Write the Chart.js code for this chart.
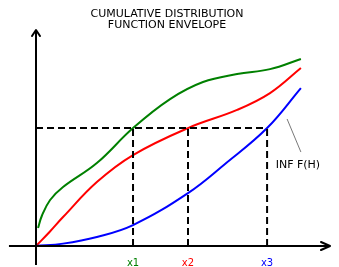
<!DOCTYPE html>
<html lang="en">
<head>
    <meta charset="UTF-8">
    <title>CDF envelope</title>
    <script src="https://cdn.jsdelivr.net/npm/chart.js@4.4.0/dist/chart.umd.min.js"></script>
    <style>
        * { margin: 0; padding: 0; box-sizing: border-box; }
        body { width: 339px; height: 267px; background: #fff; overflow: hidden; }
    </style>
</head>
<body>
    <canvas id="chart" width="339" height="267"></canvas>
    <script>
        // x in arbitrary units (0..10), y is the cumulative probability (0..1)
        const titleLines = ['CUMULATIVE DISTRIBUTION', 'FUNCTION ENVELOPE']

        const greenX = [0.07, 0.20, 0.48, 0.92, 2.07, 3.30, 4.56, 5.68, 6.84, 7.96, 9.01]
        const greenY = [0.083, 0.140, 0.213, 0.273, 0.384, 0.546, 0.680, 0.759, 0.796, 0.819, 0.866]

        const redX = [0, 0.46, 0.92, 2.07, 3.30, 5.17, 6.84, 7.96, 9.01]
        const redY = [0, 0.065, 0.134, 0.296, 0.421, 0.546, 0.630, 0.708, 0.824]

        const blueX = [0, 0.92, 2.07, 3.30, 5.17, 6.43, 7.86, 9.01]
        const blueY = [0, 0.011, 0.042, 0.097, 0.245, 0.380, 0.546, 0.731]

        // level of the horizontal cut and where each curve meets it
        const level = 0.546
        const cutX = [3.30, 5.17, 7.86]
        const cutLabels = ['x1', 'x2', 'x3']
        const cutColors = ['green', 'red', 'blue']

        // annotation pointer
        const noteX = [8.54, 9.01]
        const noteY = [0.588, 0.435]
        const noteText = 'INF F(H)'

        // axes extents
        const xAxisX = [-0.92, 10]
        const yAxisY = [-0.088, 1.0]

        const pts = (xs, ys) => xs.map((x, i) => ({ x: x, y: ys[i] }))

        const datasets = [
            { data: pts(xAxisX, [0, 0]), borderColor: '#000', borderWidth: 2 },
            { data: pts([0, 0], yAxisY), borderColor: '#000', borderWidth: 2 },
            { data: [{ x: 0, y: level }, { x: cutX[2], y: level }], borderColor: '#000', borderWidth: 2, borderDash: [7, 4] }
        ]
        cutX.forEach(x => {
            datasets.push({ data: [{ x: x, y: 0 }, { x: x, y: level }], borderColor: '#000', borderWidth: 2, borderDash: [7, 4] })
        })
        datasets.push(
            { data: pts(noteX, noteY), borderColor: '#555', borderWidth: 0.8 },
            { data: pts(blueX, blueY), borderColor: 'blue', borderWidth: 2, tension: 0.4 },
            { data: pts(redX, redY), borderColor: 'red', borderWidth: 2, tension: 0.4 },
            { data: pts(greenX, greenY), borderColor: 'green', borderWidth: 2, tension: 0.4 }
        )

        const textFont = '"DejaVu Sans", sans-serif'

        const decorations = {
            id: 'decorations',
            afterDatasetsDraw(chart) {
                const ctx = chart.ctx
                const xs = chart.scales.x
                const ys = chart.scales.y
                ctx.save()
                ctx.strokeStyle = '#000'
                ctx.lineWidth = 2
                ctx.lineJoin = 'round'
                ctx.lineCap = 'round'

                // arrow heads
                const ax = xs.getPixelForValue(xAxisX[1])
                const ay = ys.getPixelForValue(0)
                ctx.beginPath()
                ctx.moveTo(ax - 9, ay - 4)
                ctx.lineTo(ax, ay)
                ctx.lineTo(ax - 9, ay + 4)
                ctx.stroke()

                const bx = xs.getPixelForValue(0)
                const by = ys.getPixelForValue(yAxisY[1])
                ctx.beginPath()
                ctx.moveTo(bx - 4, by + 6)
                ctx.lineTo(bx, by)
                ctx.lineTo(bx + 4, by + 6)
                ctx.stroke()

                // title
                ctx.fillStyle = '#000'
                ctx.textAlign = 'center'
                ctx.textBaseline = 'middle'
                ctx.font = '11px ' + textFont
                ctx.fillText(titleLines[0], 167, 14)
                ctx.fillText(titleLines[1], 167, 25)

                // cut labels under the x axis
                ctx.font = '10px ' + textFont
                cutX.forEach((x, i) => {
                    ctx.fillStyle = cutColors[i]
                    ctx.fillText(cutLabels[i], xs.getPixelForValue(x), ay + 17)
                })

                // annotation
                ctx.fillStyle = '#000'
                ctx.font = '11px ' + textFont
                ctx.fillText(noteText, xs.getPixelForValue(noteX[1]) - 3, ys.getPixelForValue(noteY[1]) + 13)
                ctx.restore()
            }
        }

        new Chart(document.getElementById('chart').getContext('2d'), {
            type: 'line',
            data: { datasets: datasets },
            options: {
                responsive: false,
                animation: false,
                devicePixelRatio: 1,
                layout: { padding: 0 },
                elements: { point: { radius: 0 }, line: { fill: false } },
                plugins: { legend: { display: false }, tooltip: { enabled: false }, title: { display: false } },
                scales: {
                    x: { type: 'linear', min: -1.2245, max: 10.306, display: false },
                    y: { type: 'linear', min: -0.0972, max: 1.1389, display: false }
                }
            },
            plugins: [decorations]
        })
    </script>
</body>
</html>
